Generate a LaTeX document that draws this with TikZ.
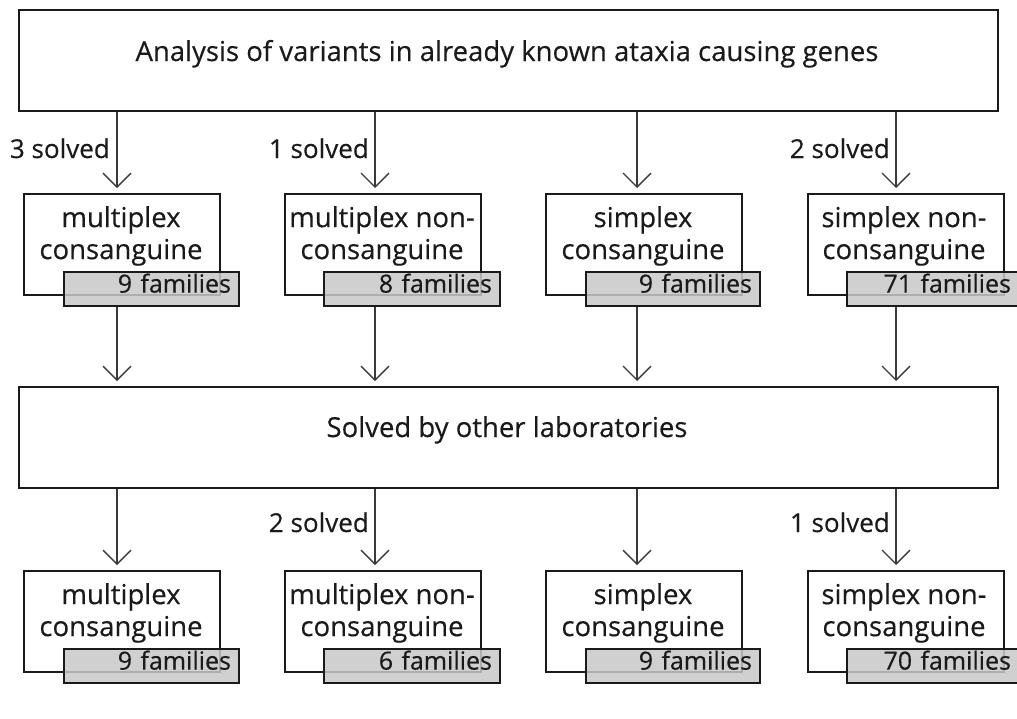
\documentclass[tikz,border=0pt]{standalone}
\usepackage{fontspec}
\setmainfont{Open Sans}[FakeBold=0.35]
\usetikzlibrary{arrows.meta}
\definecolor{ink}{HTML}{1A1A1A}
\definecolor{wire}{HTML}{3A3A3A}
\definecolor{tabfill}{RGB}{200,200,200}
\begin{document}
\begin{tikzpicture}[x=1pt,y=-1pt,
  stage/.style={draw=ink, line width=2pt, minimum width=979pt, minimum height=101pt,
    anchor=north west, inner sep=0pt},
  headline/.style={anchor=base, text=ink, font=\fontsize{27.5}{32}\selectfont},
  group/.style={draw=ink, line width=2pt, minimum width=196pt, minimum height=101pt,
    anchor=north west, inner sep=0pt},
  grouptext/.style={anchor=north, align=center, inner sep=0pt, text=ink,
    font=\fontsize{27.5}{32}\selectfont},
  tab/.style={draw=ink, line width=2pt, fill=tabfill, fill opacity=0.85, text opacity=1,
    minimum height=34pt, anchor=north west, inner xsep=8pt, inner ysep=0pt,
    text height=0.72em, text depth=0pt, align=right, text=ink,
    font=\fontsize{25}{28}\selectfont},
  solved/.style={anchor=base east, inner sep=0pt, text=ink, font=\fontsize{26}{30}\selectfont},
  flow/.style={draw=wire, line width=1.3pt, shorten >=5pt,
    -{Straight Barb[length=14pt, width=28pt, line width=1.3pt]}}
]
\useasboundingbox (0,0) rectangle (1017,718);

% arrow columns
\coordinate (c1) at (117,0);
\coordinate (c2) at (375,0);
\coordinate (c3) at (637,0);
\coordinate (c4) at (896,0);

% the two stages
\node[stage] (analysis) at (18,9) {};
\node[headline] (analysisT) at (507,61) {Analysis of variants in already known ataxia causing genes};
\node[stage] (others) at (18,386) {};
\node[headline] (othersT) at (507,437) {Solved by other laboratories};

% first row of groups
\node[group] (a1) at (23,193) {};
\node[group] (a2) at (284,193) {};
\node[group] (a3) at (545,193) {};
\node[group] (a4) at (807,193) {};
\node[grouptext] (a1t) at (121,206) {multiplex\\consanguine};
\node[grouptext] (a2t) at (382,206) {multiplex non-\\consanguine};
\node[grouptext] (a3t) at (643,206) {simplex\\consanguine};
\node[grouptext] (a4t) at (904,206) {simplex non-\\consanguine};
\node[tab, text width=159pt] (a1f) at (63,271) {9 families};
\node[tab, text width=160pt] (a2f) at (323,271) {8 families};
\node[tab, text width=158pt] (a3f) at (585,271) {9 families};
\node[tab, text width=156pt] (a4f) at (846,271) {71 families};

% second row of groups
\node[group] (b1) at (23,570) {};
\node[group] (b2) at (284,570) {};
\node[group] (b3) at (545,570) {};
\node[group] (b4) at (807,570) {};
\node[grouptext] (b1t) at (121,583) {multiplex\\consanguine};
\node[grouptext] (b2t) at (382,583) {multiplex non-\\consanguine};
\node[grouptext] (b3t) at (643,583) {simplex\\consanguine};
\node[grouptext] (b4t) at (904,583) {simplex non-\\consanguine};
\node[tab, text width=159pt] (b1f) at (63,648) {9 families};
\node[tab, text width=160pt] (b2f) at (323,648) {6 families};
\node[tab, text width=158pt] (b3f) at (585,648) {9 families};
\node[tab, text width=156pt] (b4f) at (846,648) {70 families};

% connectors
\foreach \i in {1,...,4} {
  \draw[flow] (analysis.south -| c\i) -- (a\i.north -| c\i);
  \draw[flow] (a\i f.south -| c\i) -- (others.north -| c\i);
  \draw[flow] (others.south -| c\i) -- (b\i.north -| c\i);
}

% counts solved along the way
\node[solved] (s1) at (110,158) {3 solved};
\node[solved] (s2) at (369,158) {1 solved};
\node[solved] (s4) at (890,158) {2 solved};
\node[solved] (s6) at (369,532) {2 solved};
\node[solved] (s8) at (890,532) {1 solved};
\end{tikzpicture}
\end{document}
